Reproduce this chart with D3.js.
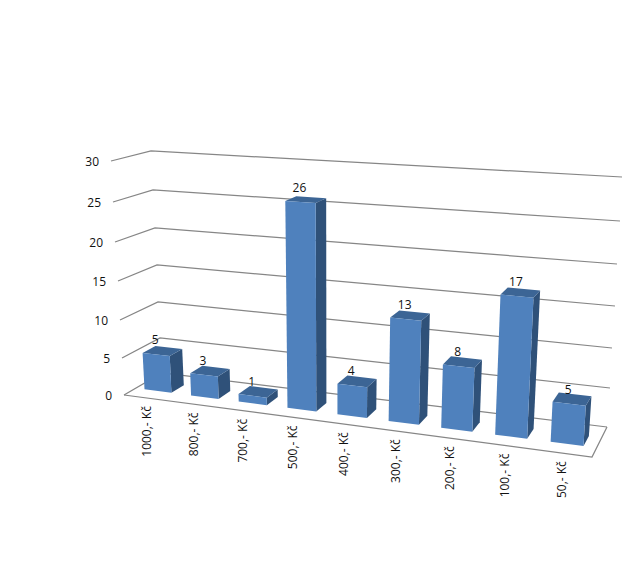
<!DOCTYPE html>
<html><head><meta charset="utf-8">
<script src="https://cdn.jsdelivr.net/npm/d3@7"></script>
<style>html,body{margin:0;background:#fff}svg{display:block}text{font-family:"Open Sans",sans-serif;font-size:12px;fill:#111}</style>
</head><body><svg id="c" width="640" height="564"></svg>
<script>
const categories = ["1000,- Kč","800,- Kč","700,- Kč","500,- Kč","400,- Kč","300,- Kč","200,- Kč","100,- Kč","50,- Kč"];
const counts = [5,3,1,26,4,13,8,17,5];
const yTicks = [0,5,10,15,20,25,30];

// Screen position of the four vertical box edges, per tick value (perspective layout)
const edge = (xs, ys) => ({x:d3.scaleLinear(yTicks,xs), y:d3.scaleLinear(yTicks,ys)});
const FL = edge([124,122,120,118,115,113,111],[395,358,320,281,242,202,161]);
const BL = edge([162,160,158,157,155,153,151],[373,338,302,265,228,190,151]);
const BR = edge([607,610,612,615,617,620,622],[427,388,348,306,264,221,177]);
const FR = edge([592,594,597,599,602,605,608],[457,416,374,329,285,240,194]);

const bilin=(u,w,a,b,c,d)=>(a*(1-u)+b*u)*(1-w)+(d*(1-u)+c*u)*w;
const persp=0.65;
// Floor point: blend of homography and bilinear, to match the mild perspective of the floor
function floor(u,w){
  const p0=[FL.x(0),FL.y(0)],p1=[FR.x(0),FR.y(0)],p2=[BR.x(0),BR.y(0)],p3=[BL.x(0),BL.y(0)];
  const dx1=p1[0]-p2[0],dx2=p3[0]-p2[0],sx=p0[0]-p1[0]+p2[0]-p3[0];
  const dy1=p1[1]-p2[1],dy2=p3[1]-p2[1],sy=p0[1]-p1[1]+p2[1]-p3[1];
  const det=dx1*dy2-dx2*dy1;
  const g=(sx*dy2-dx2*sy)/det,h=(dx1*sy-sx*dy1)/det;
  const a=p1[0]-p0[0]+g*p1[0],b=p3[0]-p0[0]+h*p3[0],c=p0[0];
  const d=p1[1]-p0[1]+g*p1[1],e=p3[1]-p0[1]+h*p3[1],f=p0[1];
  const q=g*u+h*w+1;
  const bx=bilin(u,w,p0[0],p1[0],p2[0],p3[0]),by=bilin(u,w,p0[1],p1[1],p2[1],p3[1]);
  return [persp*(a*u+b*w+c)/q+(1-persp)*bx,persp*(d*u+e*w+f)/q+(1-persp)*by];
}
// A point at height v: floor point plus the interpolated rise of the four edges
function project(u,w,v){
  const p=floor(u,w);
  const rise=(k)=>bilin(u,w,FL[k](v)-FL[k](0),FR[k](v)-FR[k](0),BR[k](v)-BR[k](0),BL[k](v)-BL[k](0));
  return [p[0]+rise("x"),p[1]+rise("y")];
}
const band = d3.scaleBand().domain(categories).range([-0.002,0.998]).paddingInner(0.42).paddingOuter(0.21);
const slot = d3.scaleBand().domain(categories).range([0,1]);
const w0=0.3,w1=0.64;

const svg=d3.select("#c");
const line=pts=>d3.line()(pts);
const grid=svg.append("g").attr("fill","none").attr("stroke","#868686").attr("stroke-width",1.25);
grid.selectAll("path.g").data(yTicks).join("path").attr("class","g")
  .attr("d",v=>line([project(0,0,v),project(0,1,v),project(1,1,v)]));
grid.append("path").attr("d",line([project(0,0,0),project(1,0,0),project(1,1,0)]));

svg.append("g").selectAll("text").data(yTicks).join("text")
  .attr("x",v=>FL.x(v)-12).attr("y",v=>FL.y(v)+5).attr("text-anchor","end").text(d=>d);

const rows=categories.map((c,i)=>({c,v:counts[i]}));
const bars=svg.append("g").selectAll("g").data(rows).join("g");
const poly=(sel,colour,fn)=>sel.append("path").attr("fill",colour).attr("d",d=>line(fn(d))+"Z");
const L=d=>band(d.c),R=d=>band(d.c)+band.bandwidth();
poly(bars,"#2f5179",d=>[project(R(d),w0,0),project(R(d),w1,0),project(R(d),w1,d.v),project(R(d),w0,d.v)]);
poly(bars,"#3c6595",d=>[project(L(d),w0,d.v),project(R(d),w0,d.v),project(R(d),w1,d.v),project(L(d),w1,d.v)]);
poly(bars,"#4f81bd",d=>[project(L(d),w0,0),project(R(d),w0,0),project(R(d),w0,d.v),project(L(d),w0,d.v)]);

svg.append("g").selectAll("text").data(rows).join("text")
  .attr("text-anchor","middle")
  .attr("x",d=>project(L(d)+band.bandwidth()/2,w0,d.v)[0]-1)
  .attr("y",d=>project(L(d)+band.bandwidth()/2,w0,d.v)[1]-10)
  .text(d=>d.v);

svg.append("g").selectAll("text").data(categories).join("text")
  .attr("text-anchor","end")
  .attr("transform",c=>{const p=project(slot(c)+slot.bandwidth()/2,0,0);return `translate(${p[0]-1},${p[1]+8}) rotate(-90)`;})
  .attr("dy","0.35em").text(c=>c);
</script></body></html>
